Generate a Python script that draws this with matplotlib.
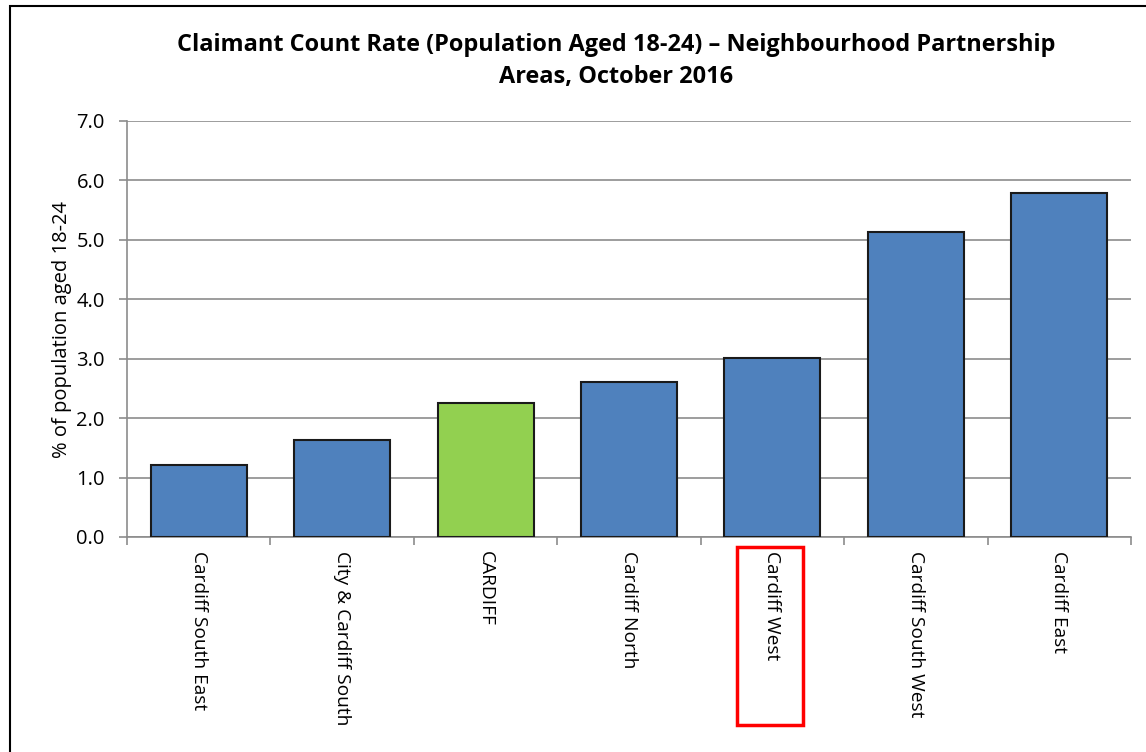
import matplotlib.pyplot as plt
from matplotlib.patches import Rectangle
from matplotlib.transforms import blended_transform_factory

areas = ['Cardiff South East', 'City & Cardiff South', 'CARDIFF', 'Cardiff North',
         'Cardiff West', 'Cardiff South West', 'Cardiff East']
rates = [1.21, 1.63, 2.26, 2.61, 3.02, 5.14, 5.79]
colors = ['#4f81bd', '#4f81bd', '#92d050', '#4f81bd', '#4f81bd', '#4f81bd', '#4f81bd']
yticks = [0.0, 1.0, 2.0, 3.0, 4.0, 5.0, 6.0, 7.0]

plt.rcParams['font.family'] = ['Open Sans', 'DejaVu Sans']

fig = plt.figure(figsize=(11.46, 7.52), dpi=100)
ax = fig.add_axes([127 / 1146, 1 - 537 / 752, (1131 - 127) / 1146, (537 - 121) / 752])

# outer chart frame
fig.patches.append(Rectangle((10 / 1146, -0.01), 1.02, 1 - 6 / 752 + 0.01,
                             transform=fig.transFigure, fill=False,
                             edgecolor='black', linewidth=1.5))

x = range(len(areas))
ax.bar(x, rates, width=0.67, color=colors, edgecolor='#1a1a1a', linewidth=1.5, zorder=3)

ax.set_xlim(-0.5, len(areas) - 0.5)
ax.set_ylim(0, 7)
ax.set_yticks(yticks)
ax.set_yticklabels(['%.1f' % v for v in yticks], fontsize=14.5)
ax.yaxis.grid(True, color='#8c8c8c', linewidth=1.2, zorder=0)

ax.set_xticks(list(x))
ax.set_xticklabels(areas, rotation=-90, fontsize=13.8, va='top')
ax.tick_params(axis='x', length=0, pad=10)
ax.set_xticks([i - 0.5 for i in range(len(areas) + 1)], minor=True)
ax.tick_params(axis='x', which='minor', length=6, color='#8c8c8c', width=1.2)
ax.tick_params(axis='y', length=6, color='#8c8c8c', width=1.2, pad=10)

for side in ['top', 'right']:
    ax.spines[side].set_visible(False)
for side in ['left', 'bottom']:
    ax.spines[side].set_color('#8c8c8c')
    ax.spines[side].set_linewidth(1.2)

ax.set_ylabel('% of population aged 18-24', fontsize=14.5, labelpad=3)

fig.text(616 / 1146, 1 - 61 / 752,
         'Claimant Count Rate (Population Aged 18-24) \u2013 Neighbourhood Partnership\nAreas, October 2016',
         ha='center', va='center', fontsize=16.9, fontweight='bold', linespacing=1.4)

# red highlight box around the Cardiff West label
trans = blended_transform_factory(ax.transData, ax.transAxes)
wi = areas.index('Cardiff West')
ax.add_patch(Rectangle((wi - 0.245, -0.451), 0.46, 0.428, transform=trans,
                       fill=False, edgecolor='red', linewidth=2.5, clip_on=False))

fig.savefig('out.png', dpi=100)
